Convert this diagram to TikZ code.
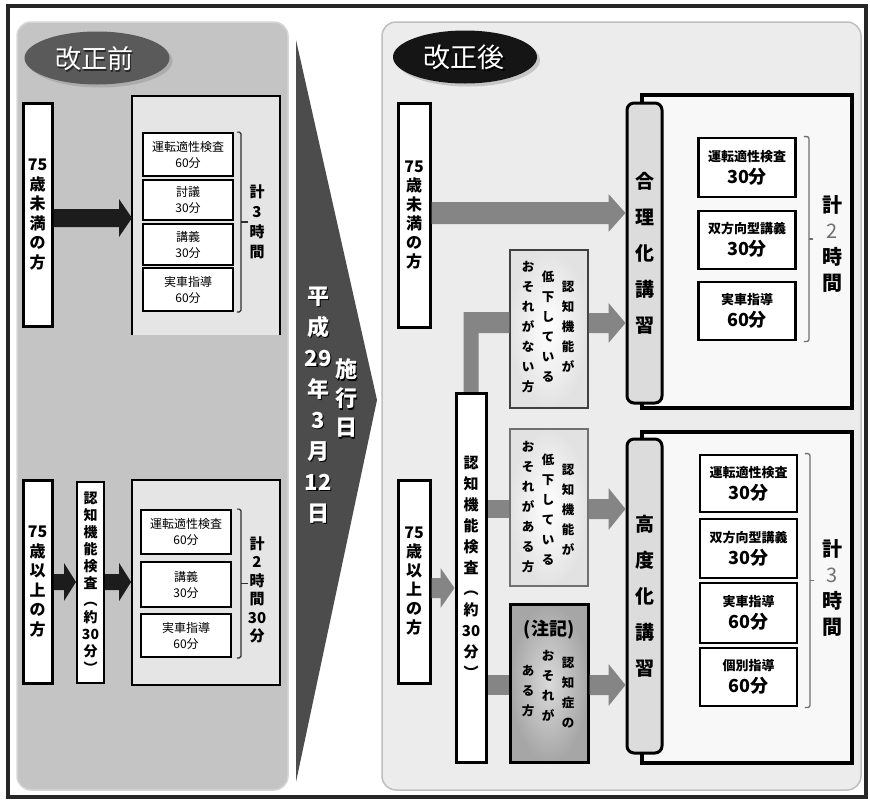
\documentclass[tikz,border=0pt]{standalone}
\usepackage{fontspec}
\setmainfont{Noto Sans CJK JP}
\usetikzlibrary{calc,shadows,shapes.geometric}
\definecolor{panelL}{HTML}{C4C4C4}
\definecolor{panelLedge}{HTML}{D6D6D6}
\definecolor{panelR}{HTML}{ECECEC}
\definecolor{panelRedge}{HTML}{BFBFBF}
\definecolor{contL}{HTML}{E5E5E5}
\definecolor{contR}{HTML}{F8F8F8}
\definecolor{kouza}{HTML}{DCDCDC}
\definecolor{arrowG}{HTML}{858585}
\definecolor{arrowK}{HTML}{1C1C1C}
\definecolor{triG}{HTML}{4C4C4C}
\definecolor{ovalL}{HTML}{5A5A5A}
\definecolor{ovalR}{HTML}{151515}
\definecolor{brkL}{HTML}{303030}
\definecolor{brkR}{HTML}{707070}
\definecolor{numG}{HTML}{707070}
\definecolor{noteEdge}{HTML}{E2E2E2}
\definecolor{chukiIn}{HTML}{DADADA}
\definecolor{chukiOut}{HTML}{A6A6A6}
\newcommand{\fsz}[2]{\fontsize{#1}{#2}\selectfont}
\newcommand{\blockarrow}[6]{%
  \path (#2) coordinate (bas);
  \path (#3 |- bas) coordinate (bae);
  \fill[#1] ([yshift=#4]bas) -- ([xshift=-#6,yshift=#4]bae) -- ([xshift=-#6,yshift=#5]bae) -- (bae)
    -- ([xshift=-#6,yshift=-#5]bae) -- ([xshift=-#6,yshift=-#4]bae) -- ([yshift=-#4]bas) -- cycle;}
\newcommand{\bracketpath}[6]{%
  \draw[#1] ([xshift=#4]#2.north east) -- ([xshift=#4+#5]#2.north east)
    -- ([xshift=#4+#5]#3.south east) -- ([xshift=#4]#3.south east);
  \draw[#1] ([xshift=#4+#5]$(#2.north east)!0.5!(#3.south east)$) -- ++(#6,0);}
\begin{document}
\begin{tikzpicture}[x=1pt,y=-1pt,
  vt/.style={align=center, inner sep=0pt},
  thickbox/.style={draw=black, line width=3pt, fill=white, inner sep=0pt, align=center},
  lbox/.style={draw=black, line width=1.8pt, fill=white, minimum width=90pt, inner sep=0pt, align=center, font=\fsz{12}{16}},
  rbox/.style={draw=black, line width=2.8pt, fill=white, minimum width=97pt, inner sep=0pt, align=center, font=\bfseries\fsz{13}{22}},
  kouzabox/.style={draw=black, line width=3pt, fill=kouza, rounded corners=7pt, minimum width=35pt, inner sep=0pt, align=center, font=\bfseries\fsz{19}{36}},
  contbox/.style={draw=black, line width=3.5pt, fill=contR, inner sep=0pt},
  notebox/.style={minimum width=78pt, minimum height=157pt, inner sep=0pt},
  coltext/.style={align=center, inner sep=0pt, font=\bfseries\fsz{12.5}{20}, anchor=north},
  brl/.style={draw=brkL, line width=1.2pt, rounded corners=1.5pt},
  brr/.style={draw=brkR, line width=1.3pt, rounded corners=2pt},
  oval/.style={ellipse, minimum width=145pt, minimum height=53pt, inner sep=0pt, drop shadow={opacity=0.35, shadow xshift=3pt, shadow yshift=-3pt}},
  ovaltext/.style={inner sep=0pt, font=\fsz{26}{26}},
]
\useasboundingbox (0,0) rectangle (870,801);
\fill[white] (0,0) rectangle (870,801);
% frame and panels
\draw[line width=3.5pt, black!85] (8,6) rectangle (866,797);
\draw[fill=panelL, draw=panelLedge, line width=1.5pt, rounded corners=14pt] (17,22) rectangle (288,790);
\draw[fill=panelR, draw=panelRedge, line width=1.5pt, rounded corners=14pt] (382,22) rectangle (861,790);
% triangle
\fill[triG] (296,40) -- (377,400) -- (296,782) -- cycle;
\node[vt, text=black, font=\bfseries\fsz{22}{31}] (dateS) at (319.5,406.5) {平\\成\\29\\年\\3\\月\\12\\日};
\node[vt, text=white, font=\bfseries\fsz{22}{31}] (date) at (318,405) {平\\成\\29\\年\\3\\月\\12\\日};
\node[vt, text=black, font=\bfseries\fsz{22}{29}] (sekoS) at (347.5,399.5) {施\\行\\日};
\node[vt, text=white, font=\bfseries\fsz{22}{29}] (seko) at (346,398) {施\\行\\日};

% ===== left panel =====
\node[oval, fill=ovalL] (ovL) at (97,58) {};
\node[ovaltext, text=black!85] (ovLts) at (95.5,60.5) {改正前};
\node[ovaltext, text=white] (ovLt) at (94,59) {改正前};

\node[thickbox, minimum width=29pt, minimum height=223pt, font=\bfseries\fsz{16}{19.5}] (u75L) at (37.5,214.5) {75\\歳\\未\\満\\の\\方};
\fill[contL] (132,96) rectangle (280,335);
\draw[line width=1.8pt] (132,335) -- (132,96) -- (280,96) -- (280,335);
\coordinate (contLw) at (132,218);
\coordinate (yA) at (0,218);
\blockarrow{arrowK}{u75L.east |- yA}{contLw}{9}{19}{13}
\node[lbox, minimum height=43pt] (lb1) at (188,154.5) {運転適性検査\\60分};
\node[lbox, minimum height=40pt] (lb2) at (188,200) {討議\\30分};
\node[lbox, minimum height=41pt] (lb3) at (188,244.5) {講義\\30分};
\node[lbox, minimum height=43pt] (lb4) at (188,289.5) {実車指導\\60分};
\bracketpath{brl}{lb1}{lb4}{3}{4}{7}
\node[vt, font=\bfseries\fsz{15}{20}] (kei3L) at (257,222) {計\\3\\時\\間};

\node[thickbox, minimum width=29pt, minimum height=203pt, font=\bfseries\fsz{16}{19.5}] (o75L) at (37.5,581.5) {75\\歳\\以\\上\\の\\方};
\node[thickbox, line width=2pt, minimum width=27pt, minimum height=201pt, font=\bfseries\fsz{14}{17}] (kensaL) at (90.5,582.5) {認\\知\\機\\能\\検\\査\\︵\\約\\30\\分\\︶};
\node[draw=black, fill=contL, line width=1.8pt, minimum width=148pt, minimum height=205pt, inner sep=0pt] (contL2) at (206,582.5) {};
\coordinate (yB) at (0,582);
\blockarrow{arrowK}{o75L.east |- yB}{kensaL.west}{8}{19}{12}
\blockarrow{arrowK}{kensaL.east |- yB}{contL2.west}{8}{19}{12}
\node[lbox, minimum height=44pt] (lc1) at (186,532) {運転適性検査\\60分};
\node[lbox, minimum height=45pt] (lc2) at (186,584.5) {講義\\30分};
\node[lbox, minimum height=43pt] (lc3) at (186,635.5) {実車指導\\60分};
\bracketpath{brl}{lc1}{lc3}{5}{4}{7}
\node[vt, font=\bfseries\fsz{15}{18.5}] (kei2L) at (257,590) {計\\2\\時\\間\\30\\分};

% ===== right panel =====
\node[oval, minimum width=144pt, fill=ovalR] (ovR) at (465,57) {};
\node[ovaltext, text=black, font=\fsz{27}{27}] (ovRts) at (465.5,59) {改正後};
\node[ovaltext, text=white, font=\fsz{27}{27}] (ovRt) at (464,57.5) {改正後};

\node[thickbox, minimum width=32pt, minimum height=224pt, font=\bfseries\fsz{16}{19}] (u75R) at (414,215) {75\\歳\\未\\満\\の\\方};
\node[thickbox, minimum width=32pt, minimum height=203pt, font=\bfseries\fsz{16}{19}] (o75R) at (414,581.5) {75\\歳\\以\\上\\の\\方};

\node[contbox, minimum width=210pt, minimum height=313pt] (goriC) at (747,251.5) {};
\node[contbox, minimum width=210pt, minimum height=331pt] (koudoC) at (747,597.5) {};

\node[notebox, minimum height=158pt, draw=black!75, line width=1.5pt, inner color=white, outer color=noteEdge] (nai) at (549,329) {};
\node[notebox, draw=brkR, line width=1.5pt, inner color=white, outer color=noteEdge] (aru) at (549,507.5) {};
\node[notebox, minimum height=158pt, draw=black, line width=3pt, inner color=chukiIn, outer color=chukiOut] (chuki) at (549,683) {};

% connectors
\coordinate (barTop) at (0,312);
\coordinate (barBot) at (0,333);
\coordinate (kensaTop) at (471,393);
\fill[arrowG] ([xshift=-7.5pt]kensaTop) |- (nai.west |- barTop) -- (nai.west |- barBot) -| ([xshift=7.5pt]kensaTop) -- cycle;
\node[thickbox, minimum width=30pt, minimum height=369pt] (kensaR) at (471,577.5) {};
\node[vt, font=\bfseries\fsz{15}{21}] (kensaRt) at (471,567) {認\\知\\機\\能\\検\\査\\︵\\約\\30\\分\\︶};
\coordinate (yC1) at (0,500); \coordinate (yC2) at (0,518); \coordinate (yC) at (0,509);
\coordinate (yD1) at (0,675); \coordinate (yD2) at (0,695); \coordinate (yD) at (0,685);
\fill[arrowG] (kensaR.east |- yC1) rectangle (aru.west |- yC2);
\fill[arrowG] (kensaR.east |- yD1) rectangle (chuki.west |- yD2);
\coordinate (yE) at (0,213);
\coordinate (yF) at (0,323);
\coordinate (yG) at (0,588);
\node[kouzabox, minimum height=300pt] (gori) at (644.5,253) {合\\理\\化\\講\\習};
\node[kouzabox, minimum height=314pt] (koudo) at (644.5,596) {高\\度\\化\\講\\習};
\blockarrow{arrowG}{u75R.east |- yE}{gori.west}{11}{19}{17}
\blockarrow{arrowG}{nai.east |- yF}{gori.west}{10}{20}{17}
\blockarrow{arrowG}{aru.east |- yC}{koudo.west}{10}{21}{17}
\blockarrow{arrowG}{chuki.east |- yD}{koudo.west}{10}{21}{17}
\blockarrow{arrowG}{o75R.east |- yG}{kensaR.west}{10}{20}{14}

% note box texts
\node[coltext] (naiC1) at (568,280.5) {認\\知\\機\\能\\が};
\node[coltext] (naiC2) at (548,270.5) {低\\下\\し\\て\\い\\る};
\node[coltext] (naiC3) at (528,261.5) {お\\そ\\れ\\が\\な\\い\\方};
\node[coltext] (aruC1) at (568,463.5) {認\\知\\機\\能\\が};
\node[coltext] (aruC2) at (548,453.5) {低\\下\\し\\て\\い\\る};
\node[coltext] (aruC3) at (528,441.5) {お\\そ\\れ\\が\\あ\\る\\方};
\node[inner sep=0pt, font=\bfseries\fsz{18}{18}] (chukiT) at (549,630) {(注記)};
\node[coltext] (chukiC1) at (568,656.5) {認\\知\\症\\の};
\node[coltext] (chukiC2) at (548,650.5) {お\\そ\\れ\\が};
\node[coltext] (chukiC3) at (528,665.5) {あ\\る\\方};

% course contents
\node[rbox, minimum height=59pt] (r1) at (747,167.5) {運転適性検査\\{\fsz{18}{22}30分}};
\node[rbox, minimum height=58pt] (r2) at (747,240) {双方向型講義\\{\fsz{18}{22}30分}};
\node[rbox, minimum height=58pt] (r3) at (747,311) {実車指導\\{\fsz{18}{22}60分}};
\bracketpath{brr}{r1}{r3}{7}{5}{4}
\node[vt, font=\bfseries\fsz{20}{26}] (kei2R) at (832,244) {計\\{\mdseries\color{numG}2}\\時\\間};

\node[rbox, minimum height=57pt] (k1) at (748.5,483.5) {運転適性検査\\{\fsz{18}{22}30分}};
\node[rbox, minimum height=59pt] (k2) at (748.5,548.5) {双方向型講義\\{\fsz{18}{22}30分}};
\node[rbox, minimum height=60pt] (k3) at (748.5,613) {実車指導\\{\fsz{18}{22}60分}};
\node[rbox, minimum height=58pt] (k4) at (748.5,677) {個別指導\\{\fsz{18}{22}60分}};
\bracketpath{brr}{k1}{k4}{6.5}{5}{4}
\node[vt, font=\bfseries\fsz{20}{26}] (kei3R) at (832,588) {計\\{\mdseries\color{numG}3}\\時\\間};
\end{tikzpicture}
\end{document}
